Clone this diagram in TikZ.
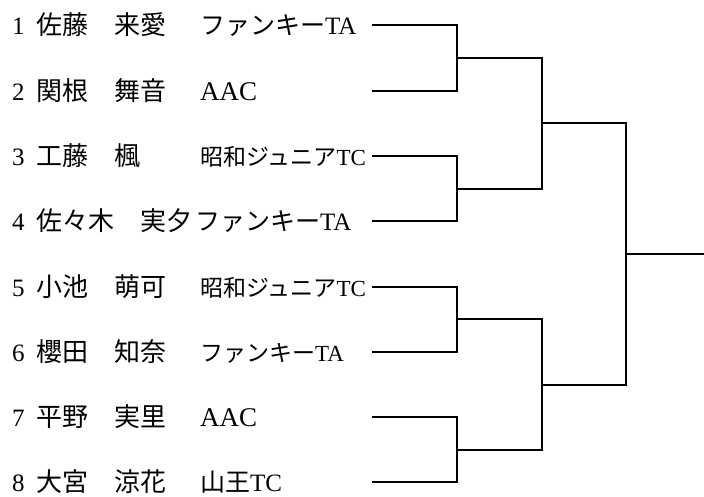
\documentclass[tikz,border=0pt]{standalone}
\usepackage{fontspec}
\setmainfont{Liberation Serif}
\newfontfamily\jfont{Noto Sans CJK JP}
\usepackage{tikz}
\tikzset{seed/.style = {anchor = base west, inner sep = 0,
                        font = \fontsize{25}{25}\selectfont}}
\tikzset{player/.style = {anchor = base west, inner sep = 0,
                          font = \jfont\fontsize{26}{26}\selectfont}}
\tikzset{club/.style = {anchor = base west, inner sep = 0,
                        font = \fontsize{23}{23}\selectfont}}
\tikzset{bigclub/.style = {club, font = \fontsize{25}{25}\selectfont}}
\tikzset{bracket/.style = {line width = 2.8pt}}
\newcommand{\jp}[1]{{\jfont #1}}

\begin{document}
\begin{tikzpicture}[x = 1pt, y = -1pt]
      \useasboundingbox (0, 0) rectangle (704, 496);
      % seeds, names and clubs
      \node [seed] (s1) at (12, 34) {1};
      \node [player] (p1) at (36, 34) {佐藤　来愛};
      \node [bigclub] (c1) at (200, 34) {\jp{ファンキー}TA};
      \node [seed] (s2) at (12, 100) {2};
      \node [player] (p2) at (36, 100) {関根　舞音};
      \node [club, font = \fontsize{27}{27}\selectfont] (c2) at (200, 100) {AAC};
      \node [seed] (s3) at (12, 165) {3};
      \node [player] (p3) at (36, 165) {工藤　楓};
      \node [club] (c3) at (200, 165) {\jp{昭和ジュニア}TC};
      \node [seed] (s4) at (12, 230) {4};
      \node [player] (p4) at (36, 230) {佐々木　実夕};
      \node [bigclub] (c4) at (195, 230) {\jp{ファンキー}TA};
      \node [seed] (s5) at (12, 296) {5};
      \node [player] (p5) at (36, 296) {小池　萌可};
      \node [club] (c5) at (200, 296) {\jp{昭和ジュニア}TC};
      \node [seed] (s6) at (12, 361) {6};
      \node [player] (p6) at (36, 361) {櫻田　知奈};
      \node [club] (c6) at (200, 361) {\jp{ファンキー}TA};
      \node [seed] (s7) at (12, 426) {7};
      \node [player] (p7) at (36, 426) {平野　実里};
      \node [club, font = \fontsize{27}{27}\selectfont] (c7) at (200, 426) {AAC};
      \node [seed] (s8) at (12, 491) {8};
      \node [player] (p8) at (36, 491) {大宮　涼花};
      \node [bigclub] (c8) at (200, 491) {\jp{山王}TC};
      % bracket ends
      \coordinate (e1) at (372, 25);
      \coordinate (e2) at (372, 91);
      \coordinate (e3) at (372, 156);
      \coordinate (e4) at (372, 221);
      \coordinate (e5) at (372, 287);
      \coordinate (e6) at (372, 352);
      \coordinate (e7) at (372, 417);
      \coordinate (e8) at (372, 482);
      \coordinate (q1) at (457, 58);
      \coordinate (q2) at (457, 189);
      \coordinate (q3) at (457, 319);
      \coordinate (q4) at (457, 450);
      \coordinate (r1) at (542, 123);
      \coordinate (r2) at (542, 385);
      \coordinate (f) at (626, 254);
      \coordinate (w) at (704, 254);
      % first round
      \draw [bracket] (e1) -| (q1) |- (e2);
      \draw [bracket] (e3) -| (q2) |- (e4);
      \draw [bracket] (e5) -| (q3) |- (e6);
      \draw [bracket] (e7) -| (q4) |- (e8);
      % semifinals and final
      \draw [bracket] (q1) -| (r1) |- (q2);
      \draw [bracket] (q3) -| (r2) |- (q4);
      \draw [bracket] (r1) -| (f) |- (r2);
      \draw [bracket] (f) -- (w);
    \end{tikzpicture}
\end{document}
